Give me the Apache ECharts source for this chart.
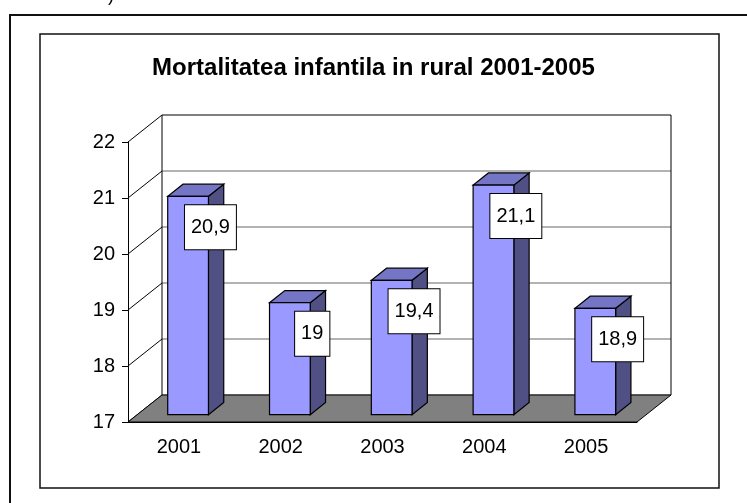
<!DOCTYPE html>
<html>
<head>
<meta charset="utf-8">
<script src="https://cdn.jsdelivr.net/npm/echarts@6/dist/echarts.min.js"></script>
<style>
  html, body { margin: 0; padding: 0; background: #fff; }
  #chart { width: 747px; height: 503px; }
</style>
</head>
<body>
<div id="chart"></div>
<script>
const categories = ['2001', '2002', '2003', '2004', '2005']
const values = [20.9, 19, 19.4, 21.1, 18.9]
const yTicks = [17, 18, 19, 20, 21, 22]
const yMin = 17
const yMax = 22

// fake 3d: depth offset of the back wall, and where the bars sit in that depth
const DX = 34
const DY = -27
const FRONT = 0.27
const BACK = 0.72
const BAR = 0.4
const FONT = '"Liberation Sans", Arial, sans-serif'

function renderWall(params, api) {
  const cs = params.coordSys
  const v = api.value(1)
  const y = api.coord([0, v])[1]
  const x0 = cs.x
  const x1 = cs.x + cs.width
  const isTop = v === yMax
  const children = [
    { type: 'line', shape: { x1: x0 + DX, y1: y + DY, x2: x1 + DX, y2: y + DY },
      style: { stroke: isTop ? '#000' : '#666', lineWidth: 1 } },
    { type: 'line', shape: { x1: x0, y1: y, x2: x0 + DX, y2: y + DY },
      style: { stroke: '#000', lineWidth: 1 } }
  ]
  if (isTop) {
    const yb = cs.y + cs.height + DY
    children.push(
      { type: 'line', shape: { x1: x0 + DX, y1: y + DY, x2: x0 + DX, y2: yb }, style: { stroke: '#000', lineWidth: 1 } },
      { type: 'line', shape: { x1: x1 + DX, y1: y + DY, x2: x1 + DX, y2: yb }, style: { stroke: '#000', lineWidth: 1 } }
    )
  }
  return { type: 'group', children }
}

function renderFloor(params, api) {
  const cs = params.coordSys
  const y = api.coord([0, api.value(1)])[1]
  const x0 = cs.x
  const x1 = cs.x + cs.width
  return {
    type: 'polygon',
    shape: { points: [[x0, y], [x1, y], [x1 + DX, y + DY], [x0 + DX, y + DY]] },
    style: { fill: '#808080', stroke: '#000', lineWidth: 1 }
  }
}

function renderBar(params, api) {
  const i = api.value(0)
  const v = api.value(1)
  const top = api.coord([i, v])
  const base = api.coord([i, yMin])
  const w = api.size([1, 0])[0] * BAR
  const fl = top[0] + DX * FRONT - w / 2
  const fr = fl + w
  const ft = top[1] + DY * FRONT
  const fb = base[1] + DY * FRONT
  const ddx = DX * (BACK - FRONT)
  const ddy = DY * (BACK - FRONT)
  const edge = { stroke: '#000', lineWidth: 1.2 }
  return {
    type: 'group',
    children: [
      { type: 'polygon', shape: { points: [[fr, ft], [fr + ddx, ft + ddy], [fr + ddx, fb + ddy], [fr, fb]] },
        style: Object.assign({ fill: '#505084' }, edge) },
      { type: 'polygon', shape: { points: [[fl, ft], [fr, ft], [fr + ddx, ft + ddy], [fl + ddx, ft + ddy]] },
        style: Object.assign({ fill: '#7575C6' }, edge) },
      { type: 'rect', shape: { x: fl, y: ft, width: w, height: fb - ft },
        style: Object.assign({ fill: '#9999FF' }, edge) },
      { type: 'text', x: fr + 2, y: ft + 31, z2: 20,
        style: {
          text: String(v).replace('.', ','),
          fill: '#000', font: '20px ' + FONT,
          align: 'center', verticalAlign: 'middle',
          backgroundColor: '#fff', borderColor: '#000', borderWidth: 1,
          padding: [12, 6]
        } }
    ]
  }
}

const chart = echarts.init(document.getElementById('chart'))
chart.setOption({
  animation: false,
  backgroundColor: '#fff',
  title: {
    text: 'Mortalitatea infantila in rural 2001-2005',
    left: 'center',
    top: 51,
    textStyle: { fontFamily: FONT, fontSize: 24, fontWeight: 'bold', color: '#000' }
  },
  graphic: [
    { type: 'rect', shape: { x: 10, y: 15, width: 800, height: 600 },
      style: { fill: 'none', stroke: '#111', lineWidth: 2 } },
    { type: 'rect', shape: { x: 40, y: 34, width: 679, height: 454 },
      style: { fill: 'none', stroke: '#111', lineWidth: 1.5 } },
    { type: 'text', x: 108, y: -13, style: { text: ')', font: '18px ' + FONT, fill: '#000' } }
  ],
  grid: { left: 128, top: 142, width: 509, height: 280 },
  xAxis: {
    type: 'category',
    data: categories,
    z: 5,
    axisLine: { lineStyle: { color: '#000', width: 1 } },
    axisTick: { length: 6, lineStyle: { color: '#000' } },
    axisLabel: { color: '#000', fontSize: 20, fontFamily: FONT, margin: 15 }
  },
  yAxis: {
    type: 'value',
    min: yMin,
    max: yMax,
    interval: 1,
    z: 5,
    axisLine: { show: true, lineStyle: { color: '#000', width: 1 } },
    axisTick: { show: true, length: 6, lineStyle: { color: '#000' } },
    axisLabel: { color: '#000', fontSize: 20, fontFamily: FONT, margin: 13 },
    splitLine: { show: false }
  },
  series: [
    { type: 'custom', renderItem: renderWall, data: yTicks.map((t) => [0, t]), silent: true },
    { type: 'custom', renderItem: renderFloor, data: [[0, yMin]], silent: true },
    { type: 'custom', renderItem: renderBar, data: values.map((v, i) => [i, v]) }
  ]
})
</script>
</body>
</html>
